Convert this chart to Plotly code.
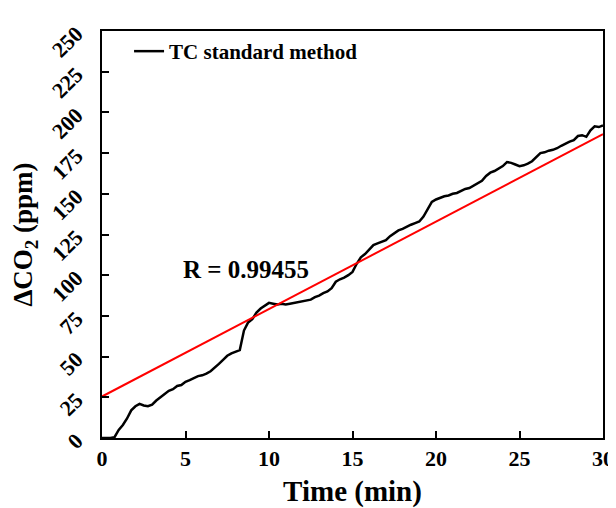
import plotly.graph_objects as go

time_min = [i * 0.25 for i in range(121)]
delta_co2 = [
    0, 0, 0, 0.5, 5, 8, 12, 17, 19.5, 21, 20, 19.5, 20.5, 23, 25, 27.5,
    29, 30, 32, 32.5, 34.5, 35.5, 37, 38, 38.5, 39.5, 41, 43, 45.5, 48, 50.5, 52,
    53, 54, 66, 71, 73, 77, 79.5, 81, 83, 82.5, 82, 82.5, 82, 82.5, 83, 83.5,
    84, 84.5, 85, 86.5, 87.5, 89, 90, 92, 96, 97.5, 98.5, 100, 102, 107, 111, 113,
    115.5, 118.5, 119.5, 120.5, 121.5, 124, 126, 127.5, 128.5, 130, 131, 132, 133, 136, 141, 145,
    146.5, 147.5, 148.5, 149, 150, 150.5, 152, 153, 153.5, 155, 156.5, 158, 161, 163, 164, 165.5,
    167, 169.5, 169, 168, 167, 167.5, 168.5, 170, 172.5, 175, 175.5, 176.5, 177, 178, 179.5, 181,
    182, 183, 185.5, 186, 185, 189, 191.5, 191, 192,
]
fit_intercept = 25.5
fit_slope = 5.37
fit_x = [0, 30]
fit_y = [fit_intercept + fit_slope * x for x in fit_x]

x_ticks = [0, 5, 10, 15, 20, 25, 30]
y_ticks = [0, 25, 50, 75, 100, 125, 150, 175, 200, 225, 250]
r_label = "R = 0.99455"

FONT = "Liberation Serif, Times New Roman, serif"

fig = go.Figure()
fig.add_trace(go.Scatter(x=time_min, y=delta_co2, mode="lines", name="TC standard method",
                         line=dict(color="black", width=2.5)))
fig.add_trace(go.Scatter(x=fit_x, y=fit_y, mode="lines", showlegend=False,
                         line=dict(color="#ff0000", width=2)))

fig.add_annotation(x=8.65, y=103.8, xref="x", yref="y", text=r_label, showarrow=False,
                   font=dict(family=FONT, size=25, color="black", weight="bold"))

axis_common = dict(showgrid=False, zeroline=False, showline=True, linecolor="black", linewidth=2,
                   mirror=True, ticks="inside", ticklen=7, tickwidth=2, tickcolor="black",
                   automargin=False,
                   tickfont=dict(family=FONT, size=22, color="black", weight="bold"))

fig.update_xaxes(range=[0, 30], tickvals=x_ticks,
                 title=dict(text="Time (min)", font=dict(family=FONT, size=29, color="black", weight="bold"), standoff=15),
                 **axis_common)
fig.update_yaxes(range=[0, 250], tickvals=y_ticks, tickangle=-45, ticklabelstandoff=19,
                 title=dict(text="ΔCO<sub>2</sub> (ppm)", font=dict(family=FONT, size=27, color="black", weight="bold"), standoff=8),
                 **axis_common)

fig.update_layout(
    width=608, height=500,
    margin=dict(l=94, r=13, t=23, b=70),
    paper_bgcolor="white", plot_bgcolor="white",
    showlegend=True,
    legend=dict(x=0.054, y=1.0, xanchor="left", yanchor="top", bgcolor="rgba(0,0,0,0)",
                font=dict(family=FONT, size=21, color="black", weight="bold")),
)

fig.write_html("out.html")
